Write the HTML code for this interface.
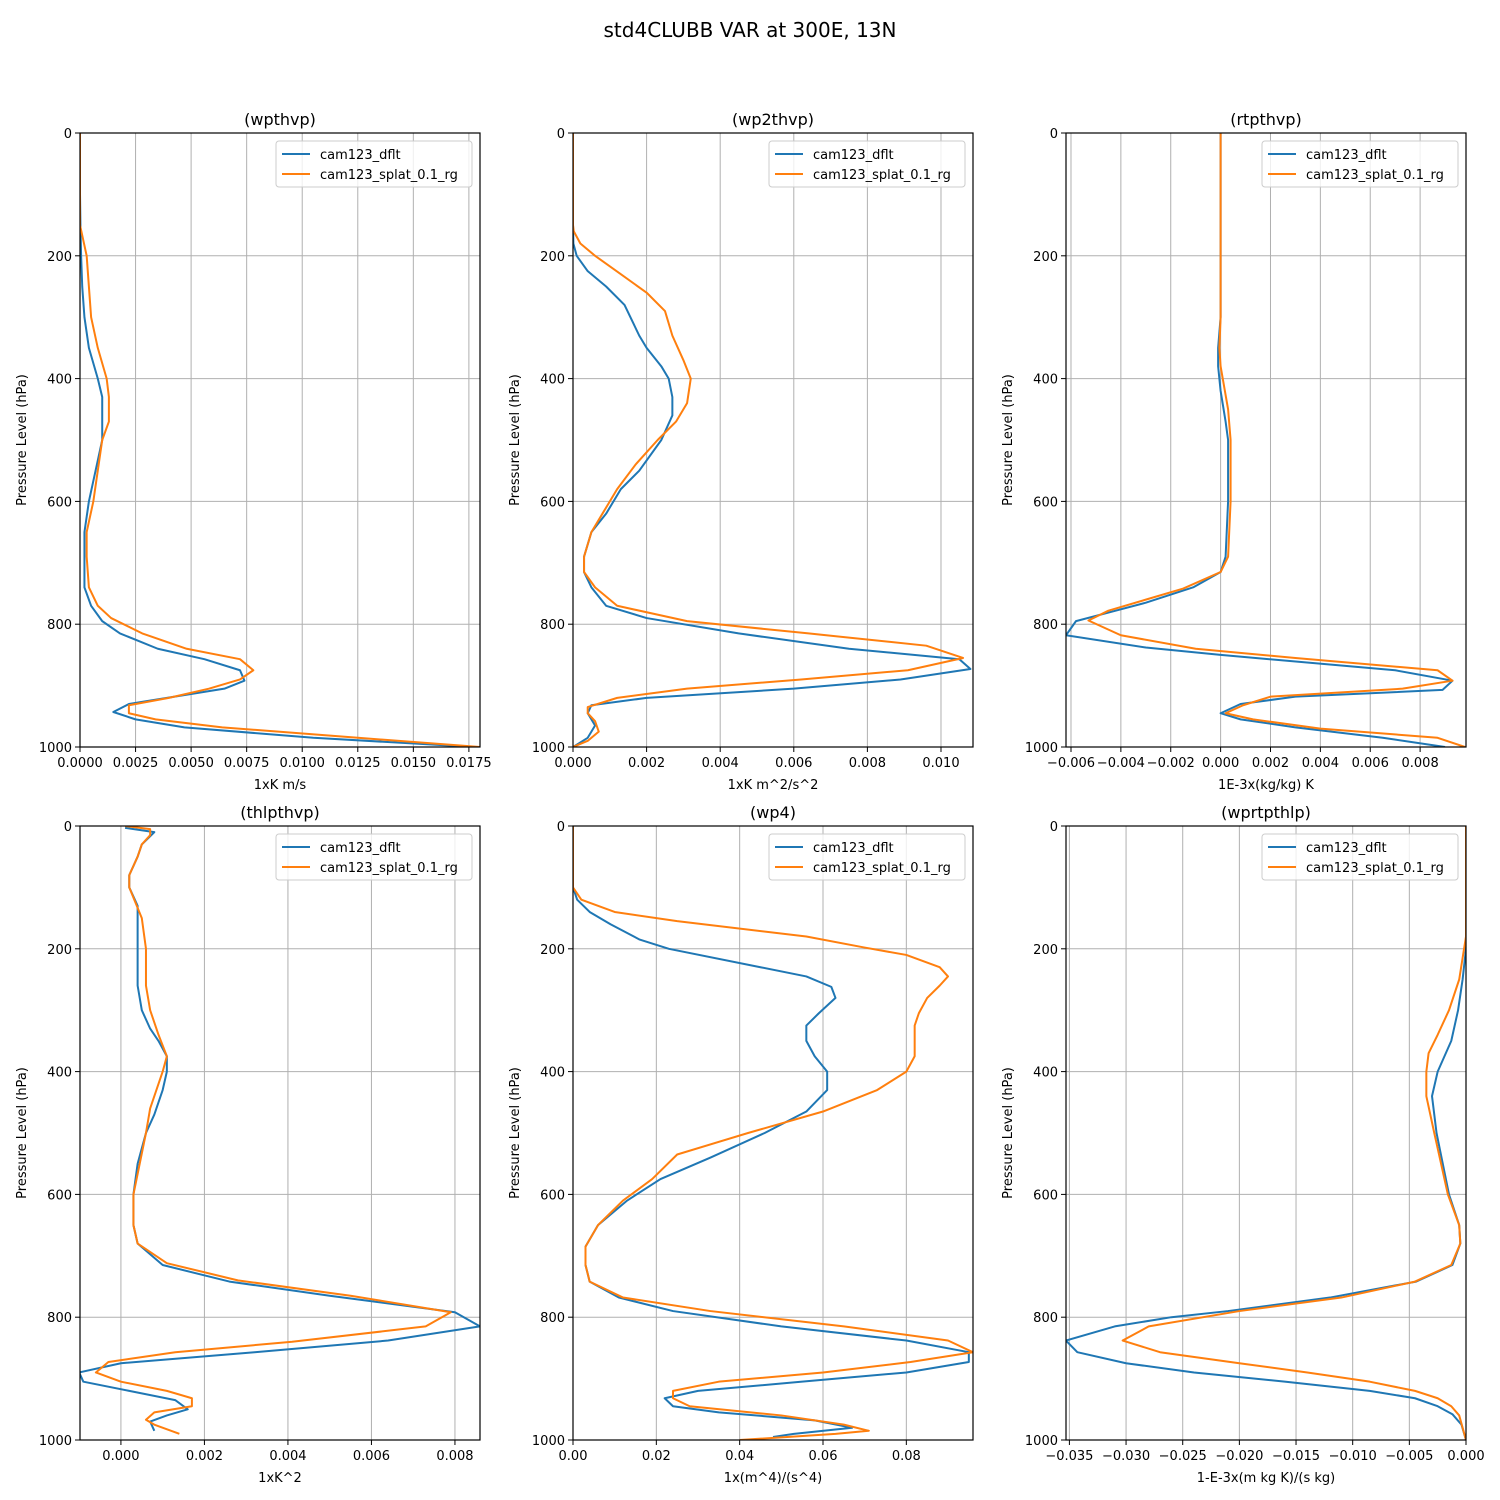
<!DOCTYPE html>
<html><head><meta charset="utf-8"><style>
html,body{margin:0;padding:0;background:#fff;}
svg{display:block;font-family:"DejaVu Sans","Liberation Sans",sans-serif;}
</style></head><body>
<svg id="fig" width="1500" height="1500" viewBox="0 0 1500 1500" xmlns="http://www.w3.org/2000/svg">
<rect width="1500" height="1500" fill="#fff"/>
<text x="750" y="37" font-size="20" text-anchor="middle">std4CLUBB VAR at 300E, 13N</text>
</svg>
<script>
// ---- data (pressure hPa, value) ----
const wpthvpDfltP = [0,100,150,200,250,300,350,400,430,500,550,600,650,690,740,770,795,815,840,857,875,892,905,930,943,955,968,985,1000];
const wpthvpDfltV = [0,0,0.00002,0.00005,0.0001,0.0002,0.0004,0.0008,0.001,0.001,0.0007,0.0004,0.0002,0.0002,0.0002,0.0005,0.001,0.0018,0.0035,0.0056,0.0072,0.0074,0.0065,0.0022,0.0015,0.0025,0.0047,0.0105,0.0178];
const wpthvpSplatP = [0,150,200,250,300,350,400,430,470,500,600,650,690,740,770,790,815,840,857,875,890,905,920,932,945,955,968,985,1000];
const wpthvpSplatV = [0,0,0.0003,0.0004,0.0005,0.0008,0.0012,0.0013,0.0013,0.001,0.0006,0.0003,0.0003,0.0004,0.0008,0.0014,0.0028,0.0048,0.0072,0.0078,0.0072,0.0058,0.004,0.0022,0.0022,0.0034,0.0064,0.0125,0.018];

const wp2thvpDfltP = [0,150,180,200,225,250,280,330,350,380,400,430,460,500,550,580,620,650,690,715,740,770,790,815,840,857,873,890,905,920,932,945,965,985,1000];
const wp2thvpDfltV = [0,0,0.00001,0.0001,0.0004,0.0009,0.0014,0.0018,0.002,0.0024,0.0026,0.0027,0.0027,0.0024,0.0018,0.0013,0.0009,0.0005,0.0003,0.0003,0.0005,0.0009,0.002,0.0045,0.0075,0.0105,0.0108,0.0089,0.006,0.002,0.0005,0.0004,0.0006,0.0004,0];
const wp2thvpSplatP = [0,150,160,180,200,230,260,290,330,370,400,440,470,500,540,580,620,650,690,715,740,770,795,815,835,855,875,890,905,920,935,945,958,975,990,1000];
const wp2thvpSplatV = [0,0,0.00002,0.0002,0.0006,0.0013,0.002,0.0025,0.0027,0.003,0.0032,0.0031,0.0028,0.0023,0.0017,0.0012,0.0008,0.0005,0.0003,0.0003,0.0006,0.0012,0.0031,0.0064,0.0096,0.0106,0.0091,0.0062,0.0031,0.0012,0.0004,0.0004,0.0006,0.0007,0.0004,0];

const rtpthvpDfltP = [0,300,350,380,420,470,500,600,690,715,740,765,780,795,818,838,850,875,892,907,918,930,945,955,968,985,1000];
const rtpthvpDfltV = [0,0,-0.0001,-0.0001,0,0.0002,0.0003,0.0003,0.0002,0,-0.0011,-0.003,-0.0044,-0.0058,-0.0062,-0.003,0,0.007,0.0093,0.0089,0.003,0.0008,0,0.0008,0.003,0.0065,0.009];
const rtpthvpSplatP = [0,300,350,380,450,500,600,690,715,742,760,778,794,818,840,855,875,892,905,918,932,945,955,970,985,1000];
const rtpthvpSplatV = [0,0,-0.00005,0,0.0003,0.0004,0.0004,0.0003,0,-0.0015,-0.003,-0.0045,-0.0053,-0.004,-0.001,0.003,0.0087,0.0093,0.0073,0.002,0.0009,0.0002,0.0013,0.004,0.0087,0.0098];

const thlpthvpDfltP = [3,10,30,50,80,100,130,170,200,260,300,330,350,375,400,430,470,500,550,600,650,680,715,742,765,792,815,838,857,875,890,905,920,935,950,960,970,985];
const thlpthvpDfltV = [0.0001,0.0008,0.0005,0.0004,0.0002,0.0002,0.0004,0.0004,0.0004,0.0004,0.0005,0.0007,0.0009,0.0011,0.0011,0.001,0.0008,0.0006,0.0004,0.0003,0.0003,0.0004,0.001,0.0026,0.005,0.008,0.0086,0.0064,0.0032,0,-0.001,-0.0009,0.0002,0.0013,0.0016,0.0011,0.0007,0.0008];
const thlpthvpSplatP = [0,5,15,30,50,80,100,150,200,260,300,340,375,400,460,500,600,650,680,712,740,765,792,815,840,857,873,890,905,920,932,945,955,967,975,990];
const thlpthvpSplatV = [0.0001,0.0007,0.0007,0.0005,0.0004,0.0002,0.0002,0.0005,0.0006,0.0006,0.0007,0.0009,0.0011,0.001,0.0007,0.0006,0.0003,0.0003,0.0004,0.0011,0.0028,0.0055,0.0079,0.0073,0.0041,0.0013,-0.0003,-0.0006,0,0.0011,0.0017,0.0017,0.0008,0.0006,0.0008,0.0014];

const wp4DfltP = [0,100,120,140,160,185,200,230,245,262,280,305,325,350,375,400,430,465,500,540,575,610,650,685,715,742,768,790,815,838,857,873,890,905,920,932,945,955,968,980,990,995];
const wp4DfltV = [0,0,0.001,0.004,0.009,0.016,0.023,0.045,0.056,0.062,0.063,0.059,0.056,0.056,0.058,0.061,0.061,0.056,0.046,0.033,0.021,0.013,0.006,0.003,0.003,0.004,0.011,0.024,0.05,0.08,0.095,0.095,0.08,0.055,0.03,0.022,0.024,0.035,0.058,0.067,0.053,0.048];
const wp4SplatP = [0,100,120,140,155,180,198,210,230,245,260,280,305,325,350,375,400,430,465,500,535,575,610,650,685,715,742,768,790,815,838,857,873,890,905,920,932,945,960,975,985,990,1000];
const wp4SplatV = [0,0,0.002,0.01,0.025,0.056,0.07,0.08,0.088,0.09,0.088,0.085,0.083,0.082,0.082,0.082,0.08,0.073,0.06,0.042,0.025,0.019,0.012,0.006,0.003,0.003,0.004,0.012,0.033,0.065,0.09,0.096,0.081,0.06,0.035,0.024,0.024,0.028,0.05,0.065,0.071,0.063,0.04];

const wprtpthlpDfltP = [0,200,250,300,350,400,440,500,600,650,680,715,742,768,790,800,815,838,857,875,890,905,920,932,945,958,975,1000];
const wprtpthlpDfltV = [0,0,-0.0003,-0.0007,-0.0013,-0.0025,-0.003,-0.0026,-0.0015,-0.0006,-0.0005,-0.0012,-0.0044,-0.012,-0.021,-0.026,-0.031,-0.0353,-0.0343,-0.03,-0.024,-0.016,-0.0085,-0.0045,-0.0025,-0.0012,-0.0004,0];
const wprtpthlpSplatP = [0,180,250,300,340,370,400,440,500,600,650,680,715,742,768,790,815,838,857,875,890,905,920,932,945,960,1000];
const wprtpthlpSplatV = [0,0,-0.0006,-0.0015,-0.0025,-0.0033,-0.0035,-0.0035,-0.0028,-0.0016,-0.0006,-0.0005,-0.0013,-0.0045,-0.011,-0.02,-0.028,-0.0303,-0.027,-0.02,-0.014,-0.0085,-0.0045,-0.0025,-0.0013,-0.0006,0];

const panelTitles = ["(wpthvp)","(wp2thvp)","(rtpthvp)","(thlpthvp)","(wp4)","(wprtpthlp)"];
const xLabels = ["1xK m/s","1xK m^2/s^2","1E-3x(kg/kg) K","1xK^2","1x(m^4)/(s^4)","1-E-3x(m kg K)/(s kg)"];
const xTicks = [
  [0,0.0025,0.005,0.0075,0.01,0.0125,0.015,0.0175],
  [0,0.002,0.004,0.006,0.008,0.01],
  [-0.006,-0.004,-0.002,0,0.002,0.004,0.006,0.008],
  [0,0.002,0.004,0.006,0.008],
  [0,0.02,0.04,0.06,0.08],
  [-0.035,-0.03,-0.025,-0.02,-0.015,-0.01,-0.005,0]
];
const xDecimals = [4,3,3,3,2,3];
const xLims = [[0,0.018],[0,0.01087],[-0.0062,0.00984],[-0.00098,0.0086],[0,0.096],[-0.0353,0]];
const yTicks = [0,200,400,600,800,1000];
const seriesNames = ["cam123_dflt","cam123_splat_0.1_rg"];
const seriesP = [[wpthvpDfltP,wpthvpSplatP],[wp2thvpDfltP,wp2thvpSplatP],[rtpthvpDfltP,rtpthvpSplatP],[thlpthvpDfltP,thlpthvpSplatP],[wp4DfltP,wp4SplatP],[wprtpthlpDfltP,wprtpthlpSplatP]];
const seriesV = [[wpthvpDfltV,wpthvpSplatV],[wp2thvpDfltV,wp2thvpSplatV],[rtpthvpDfltV,rtpthvpSplatV],[thlpthvpDfltV,thlpthvpSplatV],[wp4DfltV,wp4SplatV],[wprtpthlpDfltV,wprtpthlpSplatV]];

const NS = "http://www.w3.org/2000/svg";
const svg = document.getElementById("fig");
const colors = ["#1f77b4","#ff7f0e"];
const lefts = [80,573,1066], tops = [133,826], W = 400, H = 614;
function mk(tag, attrs, parent, txt){
  const e = document.createElementNS(NS, tag);
  for (const k in attrs) e.setAttribute(k, attrs[k]);
  if (txt !== undefined) e.textContent = txt;
  parent.appendChild(e); return e;
}
function fmt(v,d){ let s = v.toFixed(d); if (Math.abs(v) < 1e-12) s = (0).toFixed(d); return s.replace("-","\u2212"); }

for (let i = 0; i < 6; i++) {
  const L = lefts[i%3], T = tops[Math.floor(i/3)];
  const [x0,x1] = xLims[i];
  const xs = v => L + (v - x0) / (x1 - x0) * W;
  const ys = p => T + p / 1000 * H;
  const g = mk("g", {}, svg);
  
  
  xTicks[i].forEach(t => {
    const x = xs(t);
    const gl = mk("line",{x1:x,x2:x,y1:T,y2:T+H,stroke:"#b0b0b0","stroke-width":1}, g);
    
    
    mk("line",{x1:x,x2:x,y1:T+H,y2:T+H+5,stroke:"#000","stroke-width":1}, g);
    const tl = mk("text",{x:x,y:T+H+20,"font-size":13,"text-anchor":"middle"}, g, fmt(t,xDecimals[i]));
    
    
  });
  yTicks.forEach(t => {
    const y = ys(t);
    const gl = mk("line",{x1:L,x2:L+W,y1:y,y2:y,stroke:"#b0b0b0","stroke-width":1}, g);
    
    
    mk("line",{x1:L-5,x2:L,y1:y,y2:y,stroke:"#000","stroke-width":1}, g);
    const tl = mk("text",{x:L-8,y:y+5,"font-size":13,"text-anchor":"end"}, g, String(t));
    
    
  });
  const clipId = "clip"+i;
  const cp = mk("clipPath",{id:clipId}, g);
  mk("rect",{x:L,y:T,width:W,height:H}, cp);
  for (let s = 0; s < 2; s++) {
    const P = seriesP[i][s], V = seriesV[i][s];
    const pts = P.map((p,k) => xs(V[k]).toFixed(2)+","+ys(p).toFixed(2)).join(" ");
    const pl = mk("polyline",{points:pts,fill:"none",stroke:colors[s],"stroke-width":2,"stroke-linejoin":"round","clip-path":"url(#"+clipId+")"}, g);
    
    
  }
  mk("rect",{x:L,y:T,width:W,height:H,fill:"none",stroke:"#000","stroke-width":1.2}, g);
  const tt = mk("text",{x:L+W/2,y:T-8,"font-size":16,"text-anchor":"middle"}, g, panelTitles[i]);
  
  
  const xl = mk("text",{x:L+W/2,y:T+H+42,"font-size":13,"text-anchor":"middle"}, g, xLabels[i]);
  
  
  const yl = mk("text",{x:0,y:0,"font-size":13,"text-anchor":"middle",transform:"translate("+(L-54)+","+(T+H/2)+") rotate(-90)"}, g, "Pressure Level (hPa)");
  
  
  const lg = mk("g",{}, g);
  
  
  const lx = L+W-204, ly = T+8;
  mk("rect",{x:lx,y:ly,width:196,height:46,rx:3,fill:"#fff","fill-opacity":0.8,stroke:"#ccc"}, lg);
  for (let s = 0; s < 2; s++) {
    const yy = ly+13+s*20;
    mk("line",{x1:lx+6,x2:lx+34,y1:yy,y2:yy,stroke:colors[s],"stroke-width":2}, lg);
    const le = mk("text",{x:lx+44,y:yy+5,"font-size":13}, lg, seriesNames[s]);
    
    
  }
}
</script>
</body></html>
